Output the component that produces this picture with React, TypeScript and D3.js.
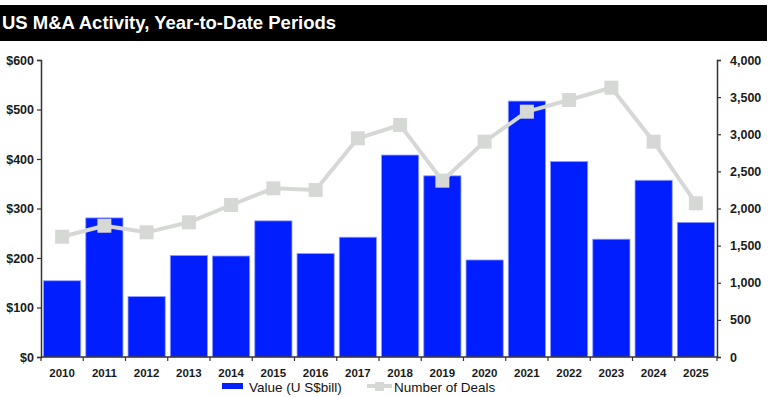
import React, { useEffect, useRef } from 'react';
import * as d3 from 'd3';

// data
const years = ['2010', '2011', '2012', '2013', '2014', '2015', '2016', '2017', '2018', '2019', '2020', '2021', '2022', '2023', '2024', '2025'];
const valueBill = [154, 281, 122, 205, 204, 275, 209, 242, 408, 366, 196, 517, 395, 238, 357, 272];
const dealCount = [1620, 1768, 1679, 1814, 2047, 2272, 2249, 2945, 3125, 2375, 2900, 3304, 3461, 3627, 2900, 2070];
const leftTicks = [0, 100, 200, 300, 400, 500, 600];
const rightTicks = [0, 500, 1000, 1500, 2000, 2500, 3000, 3500, 4000];

const W = 769;
const H = 397;
const FONT = 'Arial, "Liberation Sans", sans-serif';
const BLUE = '#001EFF';
const GREY = '#D6D8D6';

export default () => {
  const svgRef = useRef<SVGSVGElement>(null);

  useEffect(() => {
    if (!svgRef.current) {
      return;
    }
    const svg = d3.select(svgRef.current);
    svg.selectAll('*').remove();

    // title bar
    svg.append('rect').attr('x', 0).attr('y', 5).attr('width', 767).attr('height', 36).attr('fill', '#000');
    svg.append('text')
      .attr('x', 2).attr('y', 29)
      .attr('fill', '#fff')
      .style('font', `bold 18.5px ${FONT}`)
      .text('US M&A Activity, Year-to-Date Periods');

    const left = 41, right = 717, top = 60, bottom = 357;

    const x = d3.scaleBand().domain(years).range([left, right]).paddingInner(0.12).paddingOuter(0.06);
    const yL = d3.scaleLinear().domain([0, 600]).range([bottom, top]);
    const yR = d3.scaleLinear().domain([0, 4000]).range([bottom, top]);

    // bars
    svg.append('g')
      .selectAll('rect')
      .data(valueBill)
      .enter()
      .append('rect')
      .attr('x', (d, i) => x(years[i]) as number)
      .attr('y', d => yL(d))
      .attr('width', x.bandwidth())
      .attr('height', d => bottom - yL(d))
      .attr('fill', BLUE)
      .attr('stroke', '#8F9CFF')
      .attr('stroke-width', 0.8);

    // deals line
    const cx = (i: number) => (x(years[i]) as number) + x.bandwidth() / 2;
    const line = d3.line<number>().x((d, i) => cx(i)).y(d => yR(d));
    svg.append('path')
      .datum(dealCount)
      .attr('d', line)
      .attr('fill', 'none')
      .attr('stroke', GREY)
      .attr('stroke-width', 4)
      .attr('stroke-linejoin', 'round');
    svg.append('g')
      .selectAll('rect')
      .data(dealCount)
      .enter()
      .append('rect')
      .attr('x', (d, i) => cx(i) - 7)
      .attr('y', d => yR(d) - 7)
      .attr('width', 14)
      .attr('height', 14)
      .attr('fill', GREY);

    // axes
    const axisColor = '#333';
    const labelStyle = `bold 12.5px ${FONT}`;

    const gl = svg.append('g').attr('transform', `translate(${left},0)`)
      .call(d3.axisLeft(yL).tickValues(leftTicks).tickSize(4).tickPadding(3).tickFormat(d => `$${d}`));
    const gr = svg.append('g').attr('transform', `translate(${right},0)`)
      .call(d3.axisRight(yR).tickValues(rightTicks).tickSize(4).tickPadding(9).tickFormat(d3.format(',')));
    [gl, gr].forEach(g => {
      g.select('.domain').attr('stroke', axisColor).attr('stroke-width', 1.5);
      g.selectAll('.tick line').attr('stroke', axisColor).attr('stroke-width', 1.2);
      g.selectAll('.tick text').attr('fill', '#1a1a1a').style('font', labelStyle);
    });

    // x axis with ticks at category boundaries
    const gx = svg.append('g');
    gx.append('line').attr('x1', left).attr('x2', right).attr('y1', bottom).attr('y2', bottom)
      .attr('stroke', axisColor).attr('stroke-width', 1.5);
    gx.selectAll('line.tk')
      .data(d3.range(years.length + 1))
      .enter()
      .append('line')
      .attr('class', 'tk')
      .attr('x1', i => left + i * (right - left) / years.length)
      .attr('x2', i => left + i * (right - left) / years.length)
      .attr('y1', bottom).attr('y2', bottom + 4)
      .attr('stroke', axisColor).attr('stroke-width', 1.2);
    gx.selectAll('text')
      .data(years)
      .enter()
      .append('text')
      .attr('x', (d, i) => cx(i))
      .attr('y', 376.5)
      .attr('text-anchor', 'middle')
      .attr('fill', '#1a1a1a')
      .style('font', `bold 11.5px ${FONT}`)
      .text(d => d);

    // legend
    const lg = svg.append('g');
    lg.append('rect').attr('x', 222).attr('y', 383).attr('width', 21).attr('height', 6).attr('fill', BLUE);
    lg.append('text').attr('x', 249).attr('y', 391.5).attr('fill', '#111')
      .style('font', `13.5px ${FONT}`).text('Value (U S$bill)');
    lg.append('line').attr('x1', 367).attr('x2', 392).attr('y1', 386).attr('y2', 386)
      .attr('stroke', GREY).attr('stroke-width', 4);
    lg.append('rect').attr('x', 375).attr('y', 382).attr('width', 9).attr('height', 9).attr('fill', GREY);
    lg.append('text').attr('x', 394).attr('y', 391.5).attr('fill', '#111')
      .style('font', `13.5px ${FONT}`).text('Number of Deals');
  }, []);

  return (
    <div style={{ position: 'absolute', left: 0, top: 0 }}>
      <svg ref={svgRef} width={W} height={H} style={{ display: 'block', background: '#fff' }} />
    </div>
  );
};
